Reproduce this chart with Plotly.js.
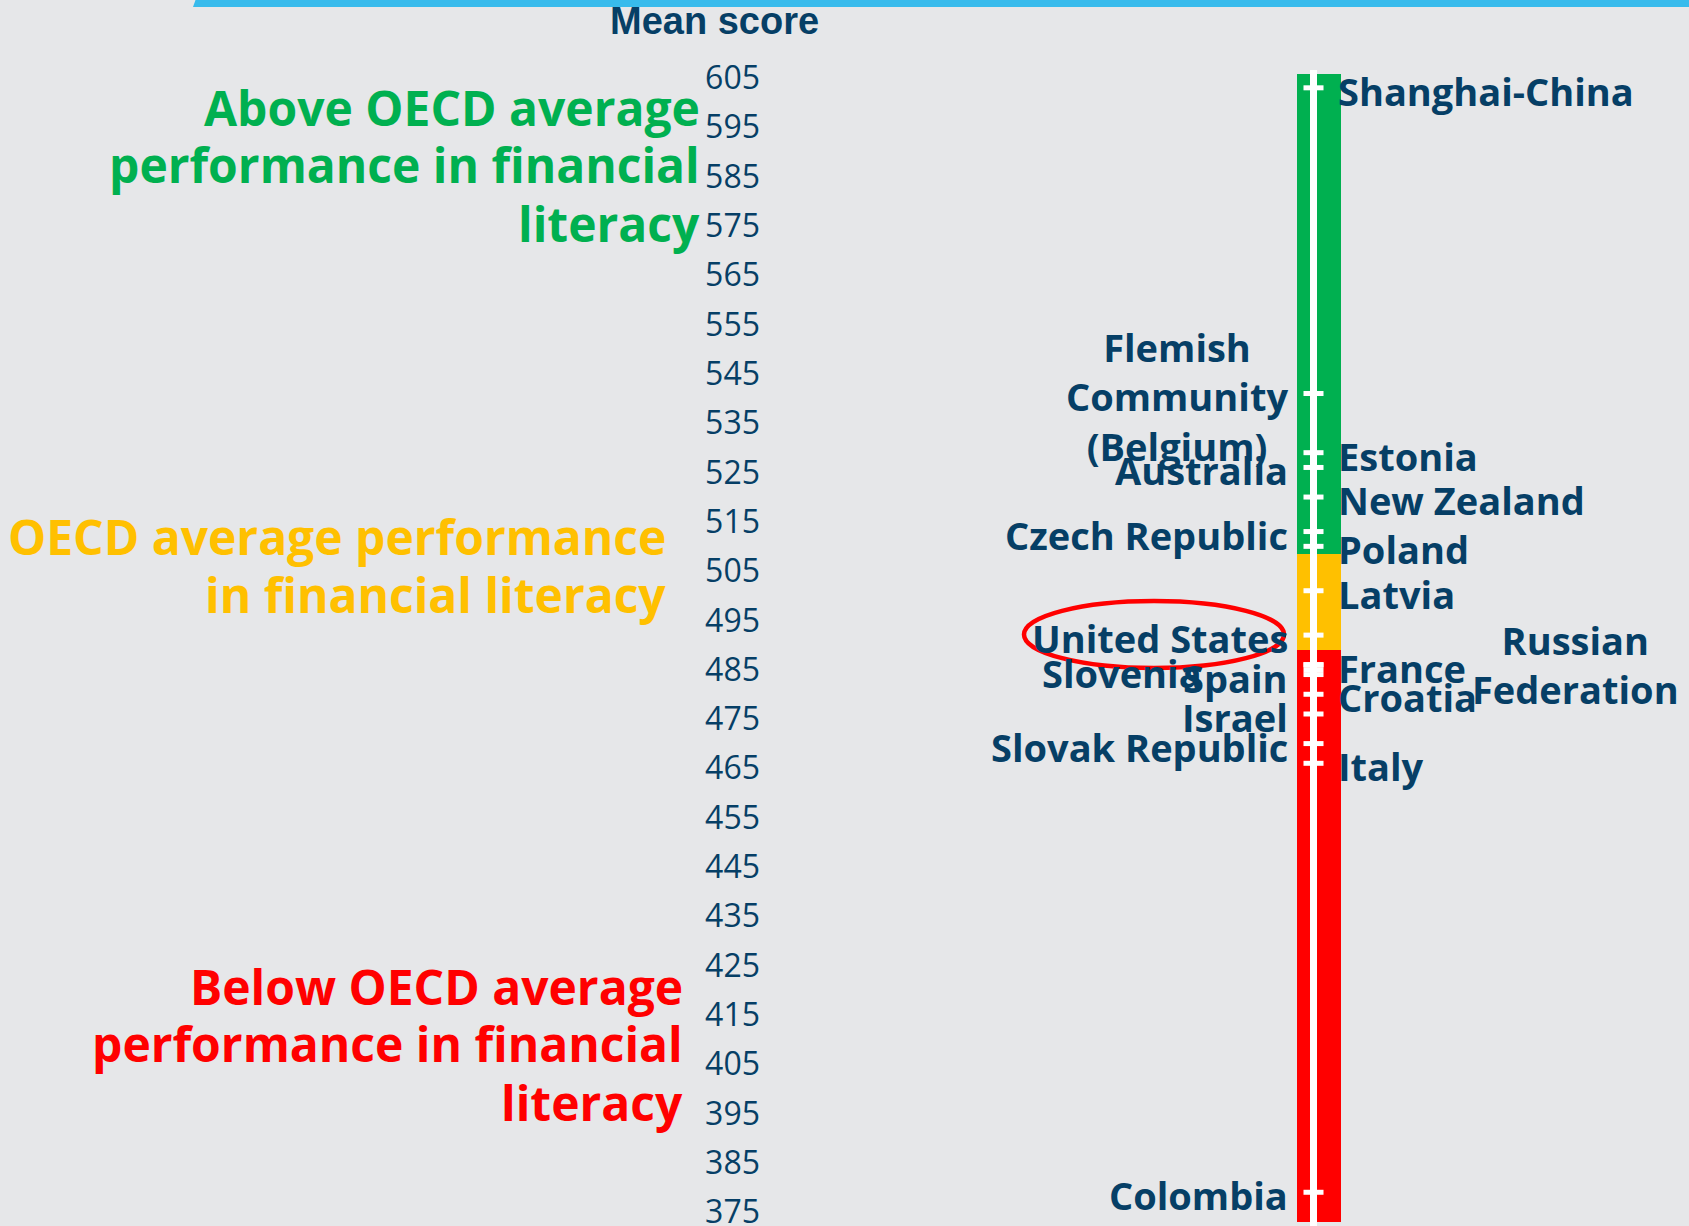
<!DOCTYPE html>
<html><head><meta charset="utf-8">
<script src="https://cdn.plot.ly/plotly-3.0.1.min.js"></script>
<style>html,body{margin:0;padding:0;background:#e6e7e9;overflow:hidden;} #chart{width:1689px;height:1226px;}</style>
</head><body><div id="chart"></div>
<script>
// ---- data ----
const countries = ["Shanghai-China","Flemish Community (Belgium)","Estonia","Australia","New Zealand","Czech Republic","Poland","Latvia","United States","Russian Federation","France","Slovenia","Spain","Croatia","Israel","Slovak Republic","Italy","Colombia"];
const scores = [603,541,529,526,520,513,510,501,492,486,486,485,484,480,476,470,466,379];
const labelSide = ["right","left","right","left","right","left","right","right","left","right","right","left","left","right","left","left","right","left"];
const bandNames = ["Above OECD average","OECD average","Below OECD average"];
const bandLow = [508.5, 489, 372.9];
const bandHigh = [605.8, 508.5, 489];
const tickValues = [375,385,395,405,415,425,435,445,455,465,475,485,495,505,515,525,535,545,555,565,575,585,595,605];
const bandTextLines = [
  ["Above OECD average","performance in financial","literacy"],
  ["OECD average performance","in financial literacy"],
  ["Below OECD average","performance in financial","literacy"]
];
const axisTitle = "Mean score";

// ---- styles ----
const W = 1689, H = 1226, TOP = 74, BOT = 1222;
const navy = "#063f66";
const bandColors = ["#00b050","#ffc000","#ff0000"];
const barX = 1319, barW = 43.5, spineX = 1313.5;
const displayLabel = {"Flemish Community (Belgium)":"Flemish<br>Community<br>(Belgium)","Russian Federation":"Russian<br>Federation"};
const labelShift = {"Slovenia":-86, "Russian Federation":134};
const labelYShift = {"Russian Federation":0};
const px = x => x / W;
const py = y => (BOT - y) / (BOT - TOP);

const traces = [
  {type:"bar", x: bandNames.map(()=>barX), y: bandHigh.map((h,i)=>h-bandLow[i]), base: bandLow,
   width: barW, marker:{color: bandColors, line:{width:0}}, hoverinfo:"skip", showlegend:false},
  {type:"scatter", mode:"markers", x: scores.map(()=>spineX), y: scores,
   marker:{symbol:"line-ew", size:14.3, line:{width:5, color:"#ffffff"}}, hoverinfo:"skip", showlegend:false, cliponaxis:false}
];

const annotations = countries.map((c,i)=>({
  x: labelSide[i]==="left" ? 1290 : 1336, xref:"x",
  y: scores[i], yref:"y",
  xanchor: labelSide[i]==="left" ? "right" : "left", yanchor:"middle",
  xshift: labelShift[c] || 0,
  yshift: (c in labelYShift) ? labelYShift[c] : -3,
  text: displayLabel[c] || c, showarrow:false, align:"center",
  font:{family:"Open Sans", size:38, color:navy, weight:700}
}));
// band description texts: right edge x, centre y of each line (pixels)
const bandRight = [702, 668, 685];
const bandLineY = [[107.7,164.8,223],[536.4,594.6],[986.7,1043.8,1102]];
bandTextLines.forEach((lines,i)=>lines.forEach((t,j)=>annotations.push({
  x: px(bandRight[i]), xref:"paper", y: py(bandLineY[i][j]), yref:"paper",
  xanchor:"right", yanchor:"middle", align:"right", showarrow:false, text:t,
  font:{family:"Open Sans", size:48, color:bandColors[i], weight:700}
})));
annotations.push({x: px(714.5), xref:"paper", y: py(21), yref:"paper", xanchor:"center", yanchor:"middle",
  showarrow:false, text: axisTitle, font:{family:"Liberation Sans, Arial", size:38, color:navy, weight:700}});

const shapes = [
  {type:"line", xref:"x", yref:"paper", x0:spineX, x1:spineX, y0:py(1240), y1:py(70), line:{color:"#ffffff", width:7}, layer:"above"},
  {type:"path", xref:"paper", yref:"paper",
   path:`M ${px(193)},${py(7)} L ${px(W)},${py(7)} L ${px(W)},${py(0)} L ${px(195.5)},${py(0)} Z`,
   fillcolor:"#38bbec", line:{width:0}},
  {type:"circle", xref:"x", yref:"paper", x0:1024, x1:1284, y0:py(601), y1:py(668), line:{color:"#ff0000", width:4.5}, layer:"above"}
];

const layout = {
  width: W, height: H, margin:{l:0, r:0, t:TOP, b:H-BOT, pad:0},
  paper_bgcolor:"#e6e7e9", plot_bgcolor:"rgba(0,0,0,0)",
  showlegend:false, bargap:0,
  xaxis:{range:[0,W], visible:false, fixedrange:true},
  yaxis:{range:[372.97,605.8], tickvals: tickValues, ticktext: tickValues.map(String), ticks:"", showgrid:false, zeroline:false, showline:false,
    anchor:"free", position: px(760), side:"left", automargin:false, ticklabeloverflow:"allow",
    tickfont:{family:"Open Sans", size:32, color:navy}},
  annotations, shapes
};
Plotly.newPlot("chart", traces, layout, {staticPlot:true, displayModeBar:false});
</script></body></html>
